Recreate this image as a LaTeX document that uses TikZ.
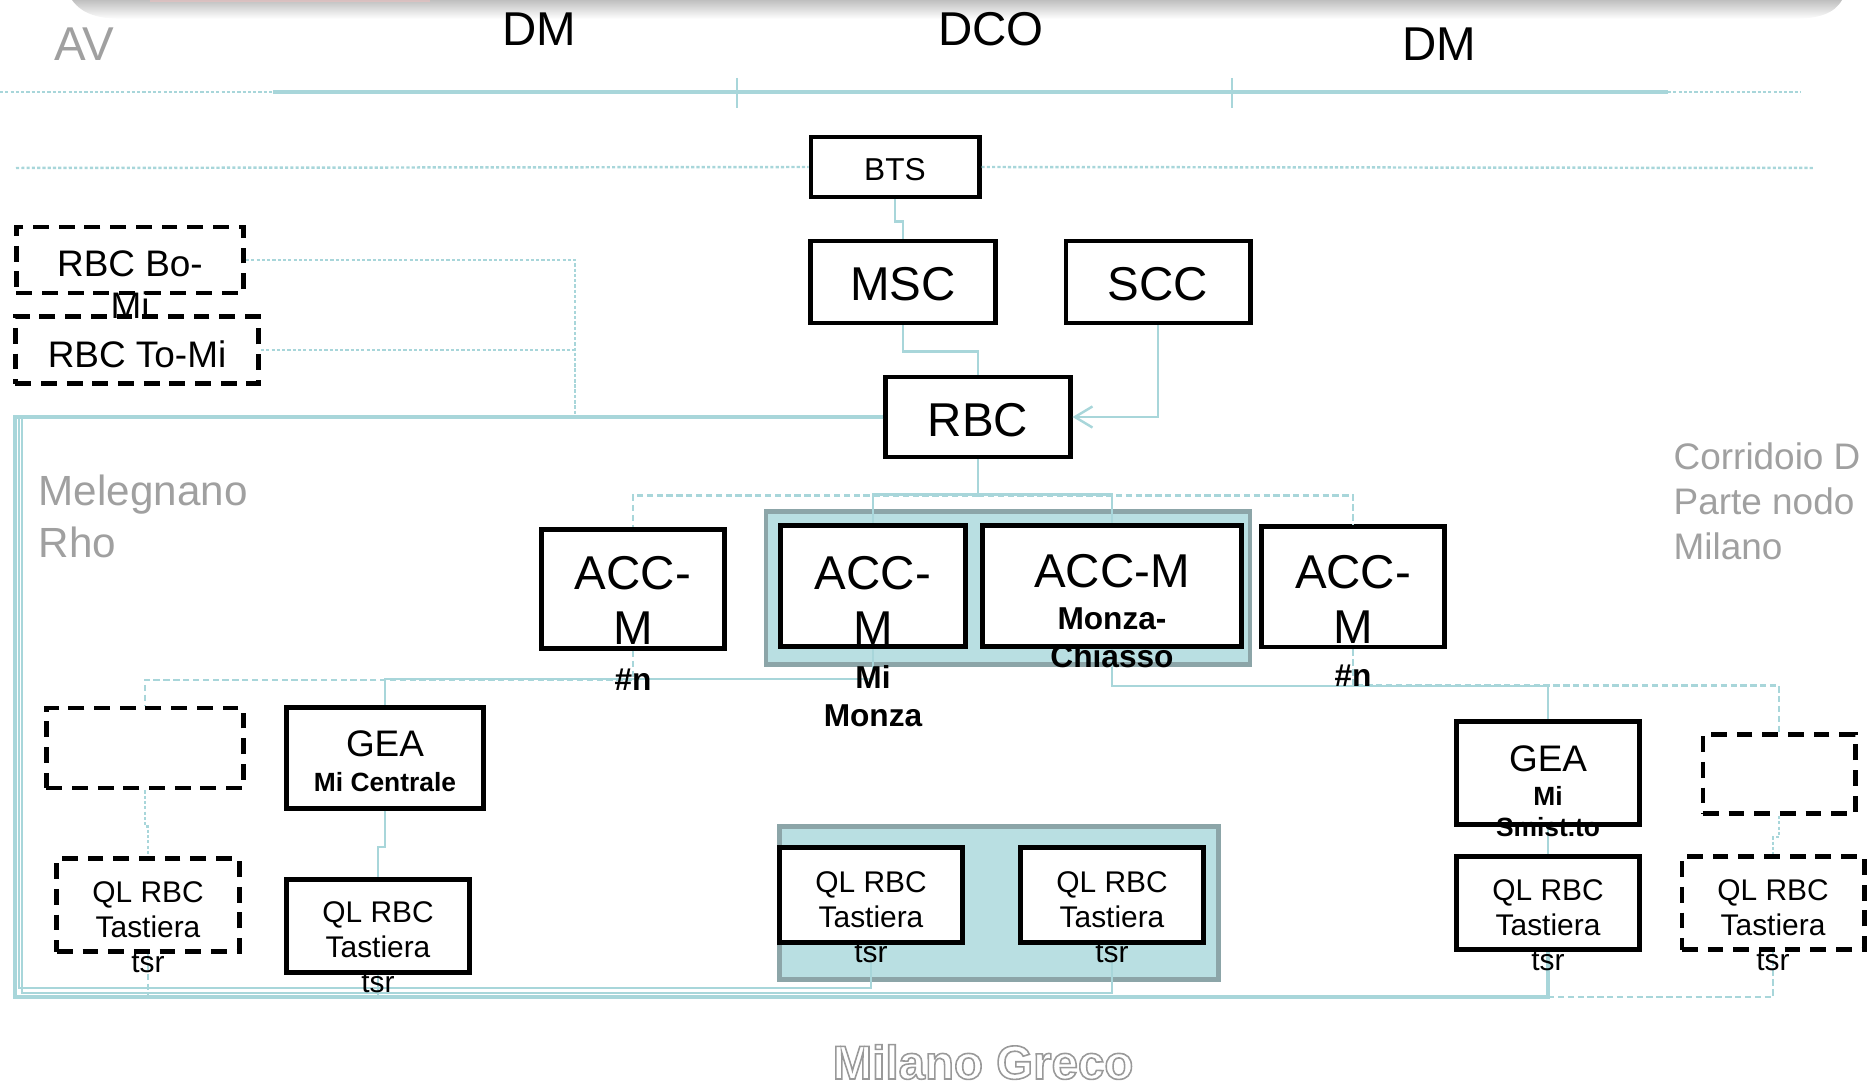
\documentclass[tikz,border=0pt]{standalone}
\usepackage{fontspec}
\setmainfont{Liberation Sans}
\usetikzlibrary{arrows.meta, positioning, calc}
\definecolor{linkcol}{RGB}{168,214,218}
\definecolor{grpfill}{RGB}{185,223,226}
\definecolor{grpline}{RGB}{140,165,168}
\definecolor{areagray}{RGB}{160,160,160}

\begin{document}
\begin{tikzpicture}[
    x=0.01cm, y=-0.01cm,
    box/.style={draw, line width=1.4pt, fill=white, inner sep=0pt},
    dbox/.style={box, dash pattern=on 4.5pt off 2.8pt},
    grp/.style={draw=grpline, line width=1.3pt, fill=grpfill, inner sep=0pt},
    link/.style={draw=linkcol, line width=0.7pt},
    dlink/.style={link, dash pattern=on 1.8pt off 1pt},
    fine/.style={link, dash pattern=on 0.9pt off 0.6pt},
    txt/.style={align=center, inner sep=0pt},
    big/.style={txt, font=\fontsize{13.5}{15.6}\selectfont},
    mid/.style={txt, font=\fontsize{10.5}{12}\selectfont},
    small/.style={txt, font=\fontsize{8.5}{10}\selectfont},
    sub/.style={txt, font=\bfseries\fontsize{9}{10.8}\selectfont},
    subsm/.style={txt, font=\bfseries\fontsize{7.5}{8.8}\selectfont},
    area/.style={align=left, inner sep=0pt, anchor=west, text=areagray},
    mgfont/.style={inner sep=0pt, font=\bfseries\fontsize{13.5}{16}\selectfont}
]
  \useasboundingbox (0,0) rectangle (1876,1086);

  % shadow of the title bar
  \shade[top color=gray!50, bottom color=white] (72,0) .. controls (82,14) and (98,19) .. (125,19) -- (1790,19) .. controls (1818,19) and (1834,14) .. (1842,0) -- cycle;
  \fill[red!25, opacity=0.4] (150,0) rectangle (430,2.5);

  % header
  \draw[fine] (0,92) -- (273,92);
  \draw[link, line width=1pt] (273,92) -- (1668,92);
  \draw[fine] (1668,92) -- (1800,92);
  \draw[link] (737,78) -- (737,108);
  \draw[link] (1232,78) -- (1232,108);

  \node[big, text=areagray] (avlbl) at (84,44) {AV};
  \node[big] (dmlbl) at (539,29) {DM};
  \node[big] (dcolbl) at (991,29) {DCO};
  \node[big] (dmrlbl) at (1439,44) {DM};

  % groups
  \node[grp, minimum width=4.84cm, minimum height=1.53cm] (grpacc) at (1008,588) {};
  \node[grp, minimum width=4.39cm, minimum height=1.53cm] (grpql) at (999,903) {};

  % boxes
  \node[box, minimum width=1.68cm, minimum height=0.6cm] (bts) at (895,167) {};
  \node[box, minimum width=1.84cm, minimum height=0.82cm] (msc) at (903,282) {};
  \node[box, minimum width=1.84cm, minimum height=0.82cm] (scc) at (1158,282) {};
  \node[box, minimum width=1.84cm, minimum height=0.8cm] (rbc) at (978,417) {};
  \node[dbox, minimum width=2.27cm, minimum height=0.66cm] (bomi) at (130,260) {};
  \node[dbox, minimum width=2.43cm, minimum height=0.67cm] (tomi) at (137,350) {};

  \node[box, minimum width=1.83cm, minimum height=1.19cm] (accl) at (633,589) {};
  \node[box, minimum width=1.84cm, minimum height=1.21cm] (accmm) at (873,586) {};
  \node[box, minimum width=2.58cm, minimum height=1.21cm] (accmc) at (1112,586) {};
  \node[box, minimum width=1.83cm, minimum height=1.2cm] (accr) at (1353,587) {};

  \node[dbox, minimum width=1.97cm, minimum height=0.8cm] (emptl) at (145,748) {};
  \node[box, minimum width=1.97cm, minimum height=1.01cm] (geac) at (385,758) {};
  \node[box, minimum width=1.83cm, minimum height=1.03cm] (geas) at (1548,773) {};
  \node[dbox, minimum width=1.52cm, minimum height=0.79cm] (emptr) at (1779,774) {};

  \node[dbox, minimum width=1.82cm, minimum height=0.93cm] (qll) at (148,905) {};
  \node[box, minimum width=1.82cm, minimum height=0.93cm] (qlc) at (378,926) {};
  \node[box, minimum width=1.83cm, minimum height=0.95cm] (qlg1) at (871,895) {};
  \node[box, minimum width=1.83cm, minimum height=0.95cm] (qlg2) at (1112,895) {};
  \node[box, minimum width=1.83cm, minimum height=0.93cm] (qls) at (1548,903) {};
  \node[dbox, minimum width=1.82cm, minimum height=0.93cm] (qlr) at (1773,903) {};

  % bus corners
  \coordinate (rbcbus) at (575,417);
  \coordinate (busnw) at (15,417);
  \coordinate (bussw) at (15,997);
  \coordinate (busb) at (19,988);
  \coordinate (busc) at (22,993);

  % links
  \draw[fine] (16,168) -- (bts.west);
  \draw[fine] (bts.east) -- (1814,168);
  \draw[link] (bts.south) -- ++(0,22) -| (msc.north);
  \draw[link] (msc.south) -- ++(0,26) -| (rbc.north);
  \draw[link, -{Straight Barb[length=5pt, width=6pt]}] (scc.south) |- (rbc.east);

  \draw[dlink] (rbc.south) ++(0,36) -| (accl.north);
  \draw[dlink] (rbc.south) ++(0,36) -| (accr.north);
  \draw[link] (rbc.south) -- ++(0,35) -| (accmm.north);
  \draw[link] (rbc.south) -- ++(0,35) -| (accmc.north);

  \draw[dlink] (accl.south) -- ++(0,29) -| (emptl.north);
  \draw[link] (accmm.south) -- ++(0,30) -| (geac.north);
  \draw[link] (accmc.south) -- ++(0,37) -| (geas.north);
  \draw[dlink] (accr.south) -- ++(0,36) -| (emptr.north);

  \draw[link] (geac.south) -- ++(0,36) -| (qlc.north);
  \draw[fine] (emptl.south) -- ++(0,36) -| (qll.north);
  \draw[link] (geas) -- (qls);
  \draw[fine] (emptr.south) -- ++(0,21) -| (qlr.north);

  \draw[fine] (bomi.east) -| (rbcbus);
  \draw[fine] (tomi.east) -| (rbcbus);
  \draw[link, line width=1pt] (rbc.west) -- (busnw) -- (bussw) -| (qls.south);
  \draw[dlink] (qls.south |- bussw) -| (qlr.south);
  \draw[link] (qlg1.south) |- (busb) -- (busb |- busnw);
  \draw[link] (qlg2.south) |- (busc) -- (busc |- busnw);
  \draw[link] (qlc.south) -- (qlc.south |- bussw);
  \draw[dlink] (qll.south) -- (qll.south |- bussw);

  % texts
  \node[txt, font=\fontsize{9}{10}\selectfont] (btst) at (895,170) {BTS};
  \node[big] (msct) at (903,284) {MSC};
  \node[big] (scct) at (1158,284) {SCC};
  \node[big] (rbct) at (978,420) {RBC};
  \node[mid] (bomit) at (130,285) {RBC Bo-\\Mi};
  \node[mid] (tomit) at (137,354) {RBC To-Mi};

  \node[area, font=\fontsize{12}{14.8}\selectfont] (melt) at (38,516) {Melegnano\\Rho};
  \node[area, font=\fontsize{10.5}{12.8}\selectfont] (cort) at (1673,501) {Corridoio D\\Parte nodo\\Milano};

  \node[big] (acclt) at (633,600) {ACC-\\M};
  \node[sub] (acclnt) at (633,680) {\#n};
  \node[big] (accmmt) at (873,600) {ACC-\\M};
  \node[sub] (accmmnt) at (873,696) {Mi\\Monza};
  \node[big] (accmct) at (1112,571) {ACC-M};
  \node[sub] (accmcnt) at (1112,638) {Monza-\\Chiasso};
  \node[big] (accrt) at (1353,599) {ACC-\\M};
  \node[sub] (accrnt) at (1353,676) {\#n};

  \node[mid] (geact) at (385,744) {GEA};
  \node[subsm] (geacnt) at (385,782) {Mi Centrale};
  \node[mid] (geast) at (1548,759) {GEA};
  \node[subsm] (geasnt) at (1548,812) {Mi\\Smist.to};

  \node[small] (qllt) at (148,927) {QL RBC\\Tastiera\\tsr};
  \node[small] (qlct) at (378,947) {QL RBC\\Tastiera\\tsr};
  \node[small] (qlg1t) at (871,917) {QL RBC\\Tastiera\\tsr};
  \node[small] (qlg2t) at (1112,917) {QL RBC\\Tastiera\\tsr};
  \node[small] (qlst) at (1548,925) {QL RBC\\Tastiera\\tsr};
  \node[small] (qlrt) at (1773,925) {QL RBC\\Tastiera\\tsr};

  % Milano Greco, outlined letters
  \node[mgfont, text=white] (mgt) at (983,1062) {\special{pdf:literal direct 2 Tr 0.45 w 0.6 0.6 0.6 RG}Milano Greco\special{pdf:literal direct 0 Tr}};
\end{tikzpicture}
\end{document}
